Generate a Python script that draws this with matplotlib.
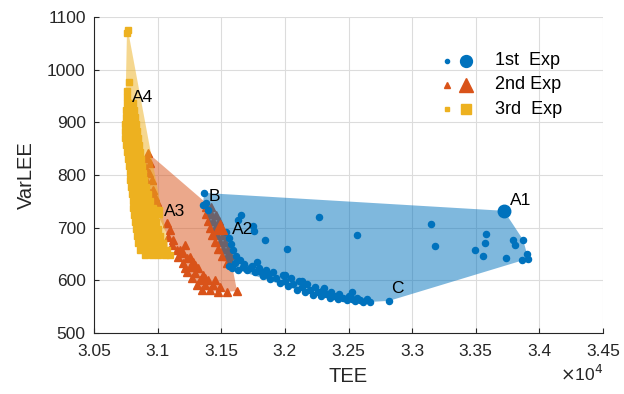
import matplotlib
matplotlib.use("Agg")
import matplotlib.pyplot as plt
from matplotlib.patches import Polygon
from matplotlib.ticker import FuncFormatter

plt.rcParams['font.family'] = ['Liberation Sans', 'DejaVu Sans']

# ---------------- data ----------------
# 1st Exp (blue circles)
exp1_x = [31364, 31357, 31380, 31396, 31561,
          31537, 31561, 31577, 31592, 31616, 31647, 31608, 31679, 31585, 31632,
          31702, 31742, 31765, 31797, 31828, 31852, 31883, 31907, 31962, 31985,
          32025, 32048, 32095, 32111, 32158, 32174, 32221, 32237, 32284, 32300,
          32355, 32363, 32418, 32425, 32488, 32504, 32551, 32567, 32614, 32645, 32669,
          31671, 31726, 31789, 31820, 31867, 31930, 32001, 32064, 32135, 32197,
          32260, 32323, 32386, 32457, 32528, 32590,
          31655, 31632, 31750, 31757, 31844, 32017, 32268, 32567, 33148, 33180,
          31781, 32001, 32135, 32308, 32528, 32818,
          33581, 33573, 33494, 33557, 33738, 33793, 33809, 33872, 33903, 33911, 33864]
exp1_y = [766, 743, 747, 734, 627,
          692, 680, 669, 658, 646, 639, 633, 631, 623, 620,
          620, 627, 616, 623, 608, 620, 603, 616, 595, 610,
          589, 604, 582, 599, 578, 593, 572, 587, 570, 582,
          566, 578, 565, 574, 563, 570, 561, 566, 559, 565, 559,
          625, 623, 618, 614, 610, 604, 599, 593, 587, 582,
          578, 574, 570, 566, 565, 563,
          724, 715, 703, 694, 677, 660, 720, 686, 707, 665,
          635, 610, 599, 585, 578, 561,
          688, 671, 658, 646, 642, 677, 667, 677, 650, 641, 639]

# 2nd Exp (orange triangles)
exp2_x = [30924, 30917, 30940, 30901, 30932, 30956, 30909, 30964, 30940, 30979, 30956, 30995, 30979,
          31074, 31097, 31082, 31121, 31215, 31113, 31152, 31200, 31160, 31231, 31278, 31200,
          31254, 31317, 31231, 31294, 31357, 31270, 31333, 31396, 31309, 31372, 31435, 31490,
          31349, 31412, 31475, 31545, 31624, 31176, 31254, 31451, 31294, 31372, 31215,
          31380, 31419, 31380, 31419, 31459, 31396, 31435, 31482, 31412, 31451, 31498,
          31427, 31467, 31514, 31451, 31490, 31530, 31475, 31514, 31553, 31506, 31545, 31569,
          31545, 31577]
exp2_y = [842, 832, 823, 815, 804, 791, 791, 772, 766, 758, 749, 749, 739,
          709, 696, 682, 677, 667, 667, 658, 652, 644, 642, 635, 633,
          625, 623, 616, 614, 610, 604, 601, 601, 591, 591, 591, 587,
          582, 582, 578, 578, 580, 658, 644, 601, 629, 604, 623,
          739, 739, 726, 726, 724, 713, 713, 713, 699, 699, 699,
          686, 686, 686, 673, 673, 673, 660, 660, 660, 646, 646, 648,
          633, 635]

# 3rd Exp (yellow squares)
exp3_rows_y = [1075, 1070, 977, 960, 948,
               937, 923, 910, 897, 884, 870, 857, 844, 830, 817, 804, 791,
               777, 764, 751, 737, 724, 711, 697, 684, 671, 658, 648]
exp3_rows_x = [[30767], [30759], [30775], [30759], [30759],
               [30759, 30783, 30806],
               [30751, 30783, 30814],
               [30751, 30783, 30822],
               [30744, 30775, 30806, 30830],
               [30744, 30775, 30806, 30838],
               [30744, 30775, 30814, 30846],
               [30751, 30783, 30822, 30854],
               [30759, 30791, 30830, 30862],
               [30767, 30799, 30838, 30869],
               [30775, 30806, 30846, 30877],
               [30783, 30814, 30854, 30885],
               [30783, 30822, 30862, 30893],
               [30791, 30830, 30869, 30909],
               [30799, 30838, 30885, 30924],
               [30806, 30846, 30893, 30940],
               [30806, 30846, 30885, 30924, 30964],
               [30814, 30854, 30901, 30940, 30979],
               [30822, 30862, 30901, 30940, 30987],
               [30830, 30869, 30917, 30956, 31003],
               [30838, 30885, 30924, 30964, 31019],
               [30846, 30893, 30940, 30987, 31042],
               [30862, 30909, 30964, 31019, 31074],
               [30901, 30956, 31003, 31058, 31097]]
exp3_x = [x for row in exp3_rows_x for x in row]
exp3_y = [y for y, row in zip(exp3_rows_y, exp3_rows_x) for _ in row]

# highlighted solutions (big markers)
best_x = [33722, 31490, 30995]
best_y = [732, 701, 730]

# annotations
ann_text = ['A1', 'A2', 'A3', 'A4', 'B', 'C']
ann_x = [33769, 31585, 31050, 30799, 31404, 32834]
ann_y = [751, 697, 730, 948, 760, 584]

legend_labels = ['1st  Exp', '2nd Exp', '3rd  Exp']
colors = ['#0072BD', '#D95319', '#EDB120']

xticks = [30500, 31000, 31500, 32000, 32500, 33000, 33500, 34000, 34500]
yticks = [500, 600, 700, 800, 900, 1000, 1100]


def convex_hull(xs, ys):
    pts = sorted(set(zip(xs, ys)))

    def cross(o, a, b):
        return (a[0] - o[0]) * (b[1] - o[1]) - (a[1] - o[1]) * (b[0] - o[0])

    lower = []
    for p in pts:
        while len(lower) >= 2 and cross(lower[-2], lower[-1], p) <= 0:
            lower.pop()
        lower.append(p)
    upper = []
    for p in reversed(pts):
        while len(upper) >= 2 and cross(upper[-2], upper[-1], p) <= 0:
            upper.pop()
        upper.append(p)
    return lower[:-1] + upper[:-1]


fig = plt.figure(figsize=(6.24, 3.94), dpi=100)
ax = fig.add_axes([94 / 624, 61 / 394, 509 / 624, 316 / 394])

small_ms = [4.4, 5.4, 4.3]
# orange
ax.plot(exp2_x, exp2_y, linestyle='none', marker='^', ms=small_ms[1], mfc=colors[1], mec=colors[1], zorder=2)
ax.add_patch(Polygon(convex_hull(exp2_x, exp2_y), closed=True, fc=colors[1], ec='none', alpha=0.5, zorder=3))
# blue
ax.plot(exp1_x, exp1_y, linestyle='none', marker='o', ms=small_ms[0], mfc=colors[0], mec=colors[0], zorder=4)
ax.add_patch(Polygon(convex_hull(exp1_x + [best_x[0]], exp1_y + [best_y[0]]), closed=True,
                     fc=colors[0], ec='none', alpha=0.5, zorder=5))
# yellow
ax.plot(exp3_x, exp3_y, linestyle='none', marker='s', ms=small_ms[2], mfc=colors[2], mec=colors[2], zorder=6)
ax.add_patch(Polygon(convex_hull(exp3_x, exp3_y), closed=True, fc=colors[2], ec='none', alpha=0.5, zorder=7))

# highlighted big markers
big_markers = ['o', '^', 's']
big_sizes = [9, 10, 7.5]
for bx, by, m, s, c in zip(best_x, best_y, big_markers, big_sizes, colors):
    ax.plot([bx], [by], linestyle='none', marker=m, ms=s, mfc=c, mec=c, zorder=8)

for t, x, y in zip(ann_text, ann_x, ann_y):
    ax.text(x, y, t, fontsize=12.5, ha='left', va='center', color='black', zorder=9)

# legend drawn manually (small + big marker per entry)
leg_small = [3, 4, 3]
leg_y = [0.861, 0.785, 0.708]
for i, lab in enumerate(legend_labels):
    ax.plot([0.6935], [leg_y[i]], transform=ax.transAxes, marker=big_markers[i], ms=leg_small[i],
            mfc=colors[i], mec=colors[i], linestyle='none', zorder=10, clip_on=False)
    ax.plot([0.7308], [leg_y[i]], transform=ax.transAxes, marker=big_markers[i], ms=big_sizes[i] * 0.95,
            mfc=colors[i], mec=colors[i], linestyle='none', zorder=10, clip_on=False)
    ax.text(0.787, leg_y[i], lab, transform=ax.transAxes, fontsize=13, ha='left', va='center',
            color='black', zorder=10)

ax.set_xlim(30500, 34500)
ax.set_ylim(500, 1100)
ax.set_xticks(xticks)
ax.set_yticks(yticks)
ax.xaxis.set_major_formatter(FuncFormatter(lambda v, p: '%g' % (v / 1e4)))
ax.tick_params(direction='in', length=3.5, width=0.8, labelsize=12.5, colors='#262626',
               top=False, right=False, pad=8)
ax.tick_params(axis='y', pad=6)
for s in ['top', 'right']:
    ax.spines[s].set_visible(False)
for s in ['left', 'bottom']:
    ax.spines[s].set_color('#262626')
    ax.spines[s].set_linewidth(0.8)
ax.grid(True, color='#dcdcdc', linewidth=0.8)
ax.set_axisbelow(True)

ax.set_xlabel('TEE', fontsize=14.5, color='#262626', labelpad=6)
ax.set_ylabel('VarLEE', fontsize=14.5, color='#262626', labelpad=8)
ax.text(1.0, -0.152, r'$\times$10$^{4}$', transform=ax.transAxes, ha='right', va='baseline',
        fontsize=12.5, color='#262626')

fig.savefig('out.png', dpi=100)
